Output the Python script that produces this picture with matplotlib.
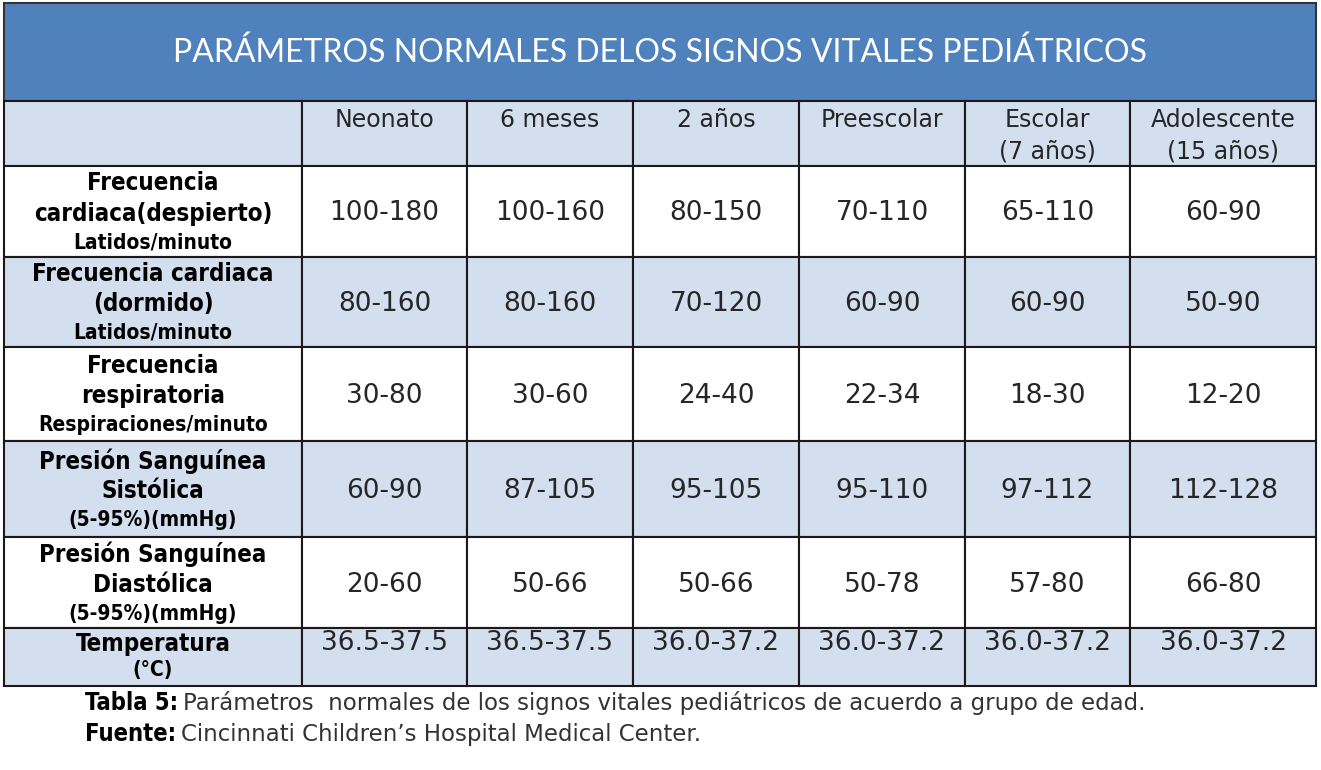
import matplotlib.pyplot as plt
from matplotlib.patches import Rectangle

# Table content
title = "PARÁMETROS NORMALES DELOS SIGNOS VITALES PEDIÁTRICOS"
groups = ["Neonato", "6 meses", "2 años", "Preescolar", "Escolar\n(7 años)", "Adolescente\n(15 años)"]
row_main = [
    ["Frecuencia", "cardiaca(despierto)"],
    ["Frecuencia cardiaca", "(dormido)"],
    ["Frecuencia", "respiratoria"],
    ["Presión Sanguínea", "Sistólica"],
    ["Presión Sanguínea", "Diastólica"],
    ["Temperatura"],
]
row_units = ["Latidos/minuto", "Latidos/minuto", "Respiraciones/minuto",
             "(5-95%)(mmHg)", "(5-95%)(mmHg)", "(°C)"]
values = [
    ["100-180", "100-160", "80-150", "70-110", "65-110", "60-90"],
    ["80-160", "80-160", "70-120", "60-90", "60-90", "50-90"],
    ["30-80", "30-60", "24-40", "22-34", "18-30", "12-20"],
    ["60-90", "87-105", "95-105", "95-110", "97-112", "112-128"],
    ["20-60", "50-66", "50-66", "50-78", "57-80", "66-80"],
    ["36.5-37.5", "36.5-37.5", "36.0-37.2", "36.0-37.2", "36.0-37.2", "36.0-37.2"],
]
caption = [("Tabla 5:", "Parámetros  normales de los signos vitales pediátricos de acuerdo a grupo de edad."),
           ("Fuente:", "Cincinnati Children’s Hospital Medical Center.")]

# Layout (pixels)
col_edges = [4, 302, 467, 633, 799, 965, 1130, 1316]
row_edges = [101, 166, 257, 347, 441, 537, 628, 686]
title_top = 3

blue = "#4f81bd"
light = "#d3dfee"
txt = "#262626"
fam = ["DejaVu Sans"]

fig = plt.figure(figsize=(13.21, 7.70), dpi=100)
ax = fig.add_axes([0, 0, 1, 1])
ax.set_xlim(0, 1321)
ax.set_ylim(770, 0)
ax.axis("off")

# title band
ax.add_patch(Rectangle((col_edges[0], title_top), col_edges[-1] - col_edges[0],
                       row_edges[0] - title_top, facecolor=blue, edgecolor="#333333", lw=1.5))
ax.text((col_edges[0] + col_edges[-1]) / 2, (title_top + row_edges[0]) / 2 + 1, title,
        color="white", fontsize=23, family=["Lato", "DejaVu Sans"], ha="center", va="center")

# cells
n_rows = len(row_edges) - 1
for r in range(n_rows):
    y0, y1 = row_edges[r], row_edges[r + 1]
    fc = light if r % 2 == 0 else "white"
    for c in range(len(col_edges) - 1):
        x0, x1 = col_edges[c], col_edges[c + 1]
        ax.add_patch(Rectangle((x0, y0), x1 - x0, y1 - y0, facecolor=fc,
                               edgecolor="#1a1a1a", lw=1.5))

# header labels
for c, g in enumerate(groups):
    xm = (col_edges[c + 1] + col_edges[c + 2]) / 2
    ax.text(xm, row_edges[0] + 7, g, color=txt, fontsize=17, family=fam,
            ha="center", va="top", linespacing=1.4)

# row labels and values
xl = (col_edges[0] + col_edges[1]) / 2
for r in range(len(values)):
    y0, y1 = row_edges[r + 1], row_edges[r + 2]
    mid = (y0 + y1) / 2
    lines = row_main[r]
    if len(lines) == 2:
        ys = [mid - 28, mid + 2]
        yu = mid + 31
        yv = mid + 2
    else:
        ys = [y0 + 16]
        yu = y0 + 42
        yv = y0 + 15
    for s, yy in zip(lines, ys):
        ax.text(xl, yy, s, color="black", fontsize=17.3, fontweight="bold",
                fontstretch="condensed", family=fam, ha="center", va="center")
    ax.text(xl, yu, row_units[r], color="black", fontsize=15, fontweight="bold",
            fontstretch="condensed", family=fam, ha="center", va="center")
    for c, v in enumerate(values[r]):
        xm = (col_edges[c + 1] + col_edges[c + 2]) / 2
        ax.text(xm, yv, v, color=txt, fontsize=19, family=fam,
                ha="center", va="center")

# caption
cap_y = [703, 734]
for (bold, rest), yy in zip(caption, cap_y):
    t = ax.text(85, yy, bold, color="black", fontsize=17, fontweight="bold",
                fontstretch="condensed", family=fam, ha="left", va="center")
    fig.canvas.draw()
    bb = t.get_window_extent()
    x_end = ax.transData.inverted().transform((bb.x1, bb.y0))[0]
    ax.text(x_end + 5, yy, rest, color="#333333", fontsize=16.5, family=fam,
            ha="left", va="center")

fig.savefig("out.png", dpi=100)
